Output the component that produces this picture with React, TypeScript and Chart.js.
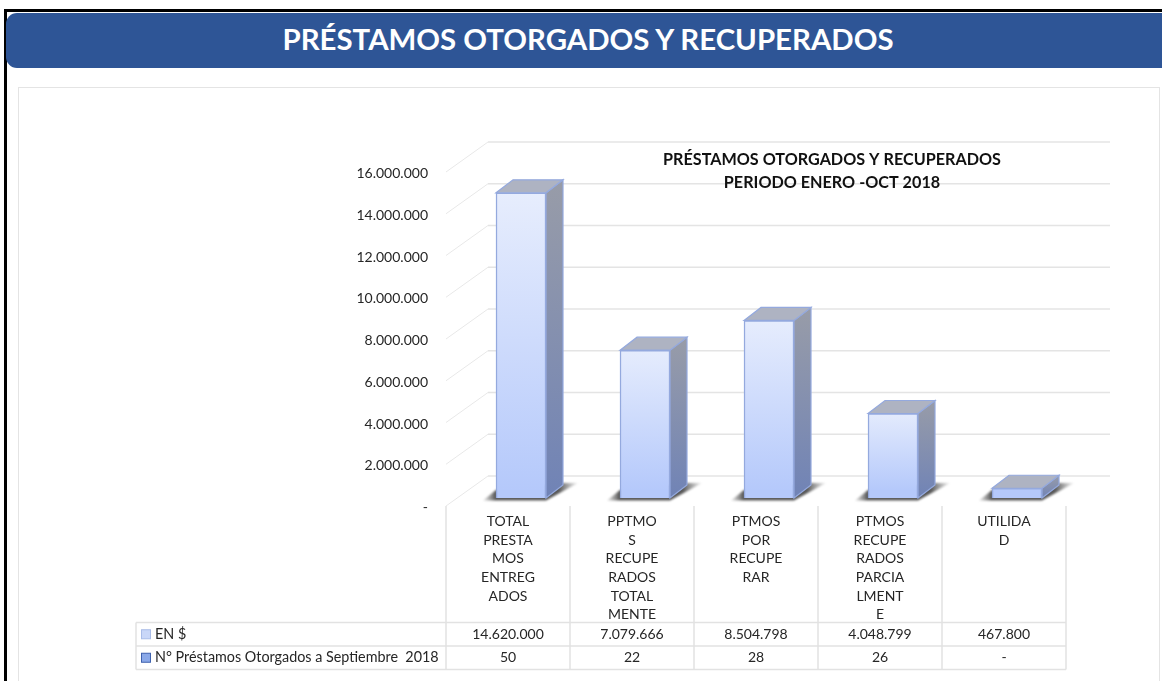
import React, { useEffect, useRef } from "react";
import { Chart, registerables } from "chart.js";

Chart.register(...registerables);

const categories = [
  ["TOTAL", "PRESTA", "MOS", "ENTREG", "ADOS"],
  ["PPTMO", "S", "RECUPE", "RADOS", "TOTAL", "MENTE"],
  ["PTMOS", "POR", "RECUPE", "RAR"],
  ["PTMOS", "RECUPE", "RADOS", "PARCIA", "LMENT", "E"],
  ["UTILIDA", "D"],
];
const enDolares = [14620000, 7079666, 8504798, 4048799, 467800];
const nPrestamos = [50, 22, 28, 26, 0];
const seriesNames = ["EN $", "N° Préstamos Otorgados a Septiembre  2018"];
const mainTitle = "PRÉSTAMOS OTORGADOS Y RECUPERADOS";
const chartTitle = ["PRÉSTAMOS OTORGADOS Y RECUPERADOS", "PERIODO ENERO -OCT 2018"];

const FONT = "Lato, 'Open Sans', sans-serif";
const fmt = (v: number) => (v === 0 ? "-" : Math.round(v).toString().replace(/\B(?=(\d{3})+(?!\d))/g, "."));

const BACK_DX = 42;
const BACK_DY = -30;
const BAR_DX = 13;
const BAR_DY = -8;
const SIDE_DX = 17;
const SIDE_DY = -13;

const depthPlugin = {
  id: "depth",
  beforeDatasetsDraw(chart: any) {
    const { ctx, scales, chartArea } = chart;
    const y = scales.y;
    ctx.save();
    y.ticks.forEach((_: any, i: number) => {
      const p = y.getPixelForTick(i);
      ctx.strokeStyle = "#E8E8E8";
      ctx.lineWidth = 1;
      ctx.beginPath();
      ctx.moveTo(chartArea.left, p);
      ctx.lineTo(chartArea.left + BACK_DX, p + BACK_DY);
      ctx.stroke();
      ctx.strokeStyle = "#E4E4E4";
      ctx.lineWidth = 1.4;
      ctx.beginPath();
      ctx.moveTo(chartArea.left + BACK_DX, p + BACK_DY);
      ctx.lineTo(1110, p + BACK_DY);
      ctx.stroke();
    });
    ctx.restore();
  },
  beforeDatasetDraw(chart: any, args: any) {
    const { ctx } = chart;
    const meta = chart.getDatasetMeta(args.index);
    ctx.save();
    ctx.translate(BAR_DX, BAR_DY);
    meta.data.forEach((bar: any) => {
      const x0 = bar.x - bar.width / 2;
      const x1 = bar.x + bar.width / 2;
      const top = bar.y;
      const base = bar.base;
      // floor shadow
      const sg = ctx.createLinearGradient(x0 - 14, 0, x1 + 32, 0);
      sg.addColorStop(0, "rgba(110,110,110,0.1)");
      sg.addColorStop(0.14, "rgba(70,70,70,0.9)");
      sg.addColorStop(0.8, "rgba(70,70,70,0.9)");
      sg.addColorStop(1, "rgba(110,110,110,0.1)");
      ctx.save();
      ctx.filter = "blur(1px)";
      ctx.fillStyle = sg;
      ctx.beginPath();
      ctx.moveTo(x0 - 13, base + 2.5);
      ctx.lineTo(x1, base + 2.5);
      ctx.lineTo(x1 + 32, base - 15);
      ctx.lineTo(x1 + SIDE_DX, base - 15);
      ctx.lineTo(x0, base - 8);
      ctx.closePath();
      ctx.fill();
      ctx.restore();
      // side face
      const g = ctx.createLinearGradient(0, top + SIDE_DY, 0, base);
      g.addColorStop(0, "#989CA8");
      g.addColorStop(1, "#7083B6");
      ctx.fillStyle = g;
      ctx.strokeStyle = "#94A9DE";
      ctx.lineWidth = 1.2;
      ctx.beginPath();
      ctx.moveTo(x1, top);
      ctx.lineTo(x1 + SIDE_DX, top + SIDE_DY);
      ctx.lineTo(x1 + SIDE_DX, base + SIDE_DY);
      ctx.lineTo(x1, base);
      ctx.closePath();
      ctx.fill();
      ctx.stroke();
      // top face
      ctx.fillStyle = "#AEB3C2";
      ctx.beginPath();
      ctx.moveTo(x0, top);
      ctx.lineTo(x0 + SIDE_DX, top + SIDE_DY);
      ctx.lineTo(x1 + SIDE_DX, top + SIDE_DY);
      ctx.lineTo(x1, top);
      ctx.closePath();
      ctx.fill();
      ctx.stroke();
    });
  },
  afterDatasetDraw(chart: any) {
    chart.ctx.restore();
  },
};

const tablePlugin = {
  id: "dataTable",
  afterDraw(chart: any) {
    const { ctx, scales, data } = chart;
    const xs = scales.x;
    const half = (xs.getPixelForTick(1) - xs.getPixelForTick(0)) / 2;
    const leftCol = xs.getPixelForTick(0) - half;
    const rightCol = xs.getPixelForTick(categories.length - 1) + half;
    const rowY = [622.5, 646, 669.5];
    const tableLeft = 136;
    ctx.save();
    ctx.strokeStyle = "#E2E2E2";
    ctx.lineWidth = 1.5;
    rowY.forEach((ry) => {
      ctx.beginPath();
      ctx.moveTo(tableLeft, ry);
      ctx.lineTo(rightCol, ry);
      ctx.stroke();
    });
    ctx.beginPath();
    ctx.moveTo(tableLeft, rowY[0]);
    ctx.lineTo(tableLeft, rowY[2]);
    ctx.stroke();
    for (let i = 0; i <= categories.length; i++) {
      const cx = leftCol + i * half * 2;
      ctx.beginPath();
      ctx.moveTo(cx, 506);
      ctx.lineTo(cx, rowY[2]);
      ctx.stroke();
    }
    const keyColors = [
      ["#C9D7F8", "#A9BCE8"],
      ["#8AA8E8", "#3F62AE"],
    ];
    ctx.textBaseline = "middle";
    data.datasets.forEach((ds: any, r: number) => {
      const cy = (rowY[r] + rowY[r + 1]) / 2;
      ctx.fillStyle = keyColors[r][0];
      ctx.strokeStyle = keyColors[r][1];
      ctx.lineWidth = 1;
      ctx.fillRect(141.5, cy - 4.5, 9, 9);
      ctx.strokeRect(141.5, cy - 4.5, 9, 9);
      ctx.fillStyle = "#262626";
      ctx.textAlign = "left";
      ctx.font = `14.35px ${FONT}`;
      ctx.fillText(ds.label, 155, cy);
      ctx.textAlign = "center";
      ctx.font = `14px ${FONT}`;
      ds.data.forEach((v: number, i: number) => {
        ctx.fillText(fmt(v), xs.getPixelForTick(i), cy);
      });
    });
    // chart heading
    ctx.font = `bold 16.2px ${FONT}`;
    ctx.fillStyle = "#111111";
    ctx.textAlign = "center";
    chartTitle.forEach((line, i) => {
      ctx.fillText(line, 832, 159.5 + i * 23);
    });
    ctx.restore();
  },
};

export default function App() {
  const ref = useRef<HTMLCanvasElement>(null);
  useEffect(() => {
    if (!ref.current) return;
    const chart = new Chart(ref.current, {
      type: "bar",
      data: {
        labels: categories as any,
        datasets: [
          {
            label: seriesNames[0],
            data: enDolares,
            barThickness: 50,
            borderWidth: 1.5,
            borderColor: "#94A9DE",
            backgroundColor: (c: any) => {
              const s = c.chart.scales.y;
              const top = s ? s.getPixelForValue(c.raw) : NaN;
              const base = s ? s.getPixelForValue(0) : NaN;
              if (!Number.isFinite(top) || !Number.isFinite(base)) return "#C9D7F8";
              const g = c.chart.ctx.createLinearGradient(0, top + BAR_DY, 0, base + BAR_DY);
              g.addColorStop(0, "#E8EEFD");
              g.addColorStop(1, "#B5C9FB");
              return g;
            },
          },
          {
            label: seriesNames[1],
            data: nPrestamos,
            hidden: true,
          },
        ],
      },
      options: {
        responsive: false,
        animation: false,
        layout: { padding: { left: 0, right: 96, top: 172, bottom: 0 } },
        plugins: { legend: { display: false }, title: { display: false }, tooltip: { enabled: false } },
        scales: {
          y: {
            min: 0,
            max: 16000000,
            afterFit: (s: any) => {
              s.width = 446;
            },
            grid: { display: false, drawTicks: false },
            border: { display: false },
            ticks: {
              stepSize: 2000000,
              padding: 18,
              labelOffset: 1.5,
              color: "#262626",
              font: { family: FONT, size: 14 },
              callback: (v: any) => fmt(Number(v)),
            },
          },
          x: {
            afterFit: (s: any) => {
              s.height = 175;
            },
            grid: { display: false, drawTicks: false },
            border: { display: false },
            ticks: {
              autoSkip: false,
              maxRotation: 0,
              padding: 6,
              color: "#262626",
              font: { family: FONT, size: 14, lineHeight: 1.335 },
            },
          },
        },
      },
      plugins: [depthPlugin, tablePlugin],
    } as any);
    return () => chart.destroy();
  }, []);

  return (
    <div style={{ position: "absolute", left: 0, top: 0, width: 1162, height: 681, overflow: "hidden", background: "#fff" }}>
      <div style={{ position: "absolute", left: 4, top: 9, width: 1158, height: 3, background: "#000" }} />
      <div style={{ position: "absolute", left: 4, top: 9, width: 3, height: 672, background: "#000" }} />
      <div
        style={{
          position: "absolute",
          left: 6,
          top: 13,
          width: 1156,
          height: 55,
          background: "#2E5596",
          borderRadius: "11px 0 0 11px",
          color: "#fff",
          fontFamily: FONT,
          fontWeight: 700,
          fontSize: 29.4,
          lineHeight: "51px",
          textAlign: "center",
          boxSizing: "border-box",
          paddingLeft: 8,
          whiteSpace: "nowrap",
        }}
      >
        {mainTitle}
      </div>
      <div
        style={{
          position: "absolute",
          left: 18,
          top: 87,
          width: 1142,
          height: 620,
          border: "1.5px solid #E4E4E4",
          boxSizing: "border-box",
        }}
      />
      <canvas ref={ref} width={1162} height={681} style={{ position: "absolute", left: 0, top: 0, display: "block" }} />
    </div>
  );
}
